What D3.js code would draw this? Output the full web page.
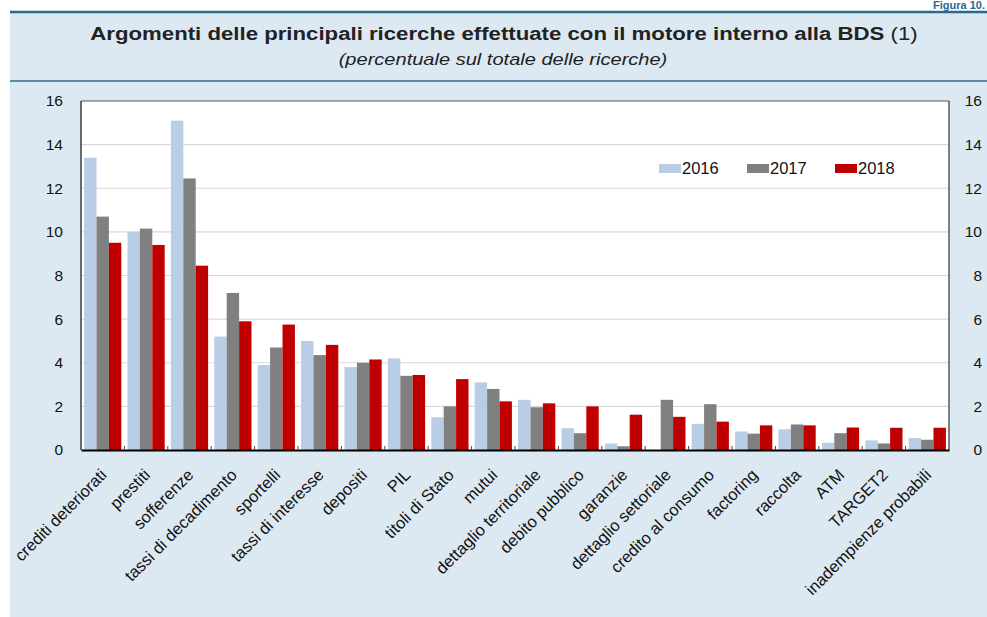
<!DOCTYPE html>
<html><head><meta charset="utf-8">
<script src="https://cdn.jsdelivr.net/npm/d3@7"></script>
<style>html,body{margin:0;padding:0;background:#fff;}svg{display:block;font-family:"Liberation Sans",Arial,sans-serif;}</style>
</head><body>
<svg id="c" width="987" height="617"></svg>
<script>
const categories = ["crediti deteriorati","prestiti","sofferenze","tassi di decadimento","sportelli","tassi di interesse","depositi","PIL","titoli di Stato","mutui","dettaglio territoriale","debito pubblico","garanzie","dettaglio settoriale","credito al consumo","factoring","raccolta","ATM","TARGET2","inadempienze probabili"];
const years = ["2016","2017","2018"];
const v2016 = [13.4,10.0,15.1,5.2,3.9,5.0,3.8,4.2,1.5,3.1,2.3,1.0,0.3,0.0,1.2,0.85,0.95,0.33,0.44,0.55];
const v2017 = [10.7,10.15,12.45,7.2,4.7,4.35,4.0,3.4,2.0,2.8,1.96,0.77,0.17,2.3,2.1,0.75,1.17,0.77,0.3,0.47];
const v2018 = [9.5,9.4,8.45,5.9,5.75,4.82,4.15,3.44,3.25,2.23,2.14,2.0,1.62,1.52,1.3,1.13,1.13,1.03,1.02,1.02];
const yTicks = [0,2,4,6,8,10,12,14,16];
const colors = ["#b9cde5","#808080","#c00000"];

const series = [v2016,v2017,v2018];
const svg = d3.select("#c");
const bg = "#dde9f2", teal = "#2a6a8c";

svg.append("rect").attr("x",10).attr("y",11).attr("width",977).attr("height",606).attr("fill",bg);
svg.append("line").attr("x1",10).attr("x2",987).attr("y1",12).attr("y2",12).attr("stroke",teal).attr("stroke-width",2.5);
svg.append("line").attr("x1",10).attr("x2",987).attr("y1",81).attr("y2",81).attr("stroke",teal).attr("stroke-width",1.5);
svg.append("text").attr("x",985).attr("y",9).attr("text-anchor","end").attr("fill","#1f6b94")
  .attr("font-weight","bold").attr("font-size",11).text("Figura 10.");

function stretch(sel, cx, target){
  const w = sel.node().getComputedTextLength();
  const s = target / w;
  sel.attr("transform",`translate(${cx},0) scale(${s},1) translate(${-cx},0)`);
}
const title = svg.append("text").attr("x",504).attr("y",40).attr("text-anchor","middle").attr("fill","#222").attr("font-size",18.5);
title.append("tspan").attr("font-weight","bold").text("Argomenti delle principali ricerche effettuate con il motore interno alla BDS");
title.append("tspan").text(" (1)");
stretch(title,504,828);
const sub = svg.append("text").attr("x",503).attr("y",65).attr("text-anchor","middle").attr("fill","#222")
  .attr("font-style","italic").attr("font-size",16).text("(percentuale sul totale delle ricerche)");
stretch(sub,503,329);

const m = {l:81, r:949, t:101, b:450};
const x0 = d3.scaleBand().domain(categories).range([m.l,m.r]).paddingInner(0).paddingOuter(0);
const x1 = d3.scaleBand().domain(years).range([0,x0.bandwidth()]).paddingOuter(0.25).paddingInner(0);
const y = d3.scaleLinear().domain([0,16]).range([m.b,m.t]);

svg.append("rect").attr("x",m.l).attr("y",m.t).attr("width",m.r-m.l).attr("height",m.b-m.t).attr("fill","#fff");
const g = svg.append("g");
g.selectAll(".grid").data(yTicks.filter(d=>d>0&&d<16)).join("line")
  .attr("x1",m.l).attr("x2",m.r).attr("y1",d=>y(d)).attr("y2",d=>y(d)).attr("stroke","#d9d9d9").attr("stroke-width",1.2);

const groups = g.selectAll(".grp").data(categories).join("g").attr("transform",d=>`translate(${x0(d)},0)`);
years.forEach((yr,si)=>{
  groups.append("rect")
    .attr("x",x1(yr)).attr("width",x1.bandwidth())
    .attr("y",(d,i)=>y(series[si][i])).attr("height",(d,i)=>m.b-y(series[si][i]))
    .attr("fill",colors[si]);
});

// frame
svg.append("line").attr("x1",m.l).attr("x2",m.r).attr("y1",m.t).attr("y2",m.t).attr("stroke","#555").attr("stroke-width",1);
svg.append("line").attr("x1",m.l).attr("x2",m.l).attr("y1",m.t).attr("y2",m.b).attr("stroke","#111").attr("stroke-width",1.2);
svg.append("line").attr("x1",m.r).attr("x2",m.r).attr("y1",m.t).attr("y2",m.b).attr("stroke","#333").attr("stroke-width",1.2);

// x axis
const xa = svg.append("g").attr("transform",`translate(0,${m.b})`);
xa.call(d3.axisBottom(x0).tickSize(0).tickFormat(""));
xa.select(".domain").attr("stroke","#000").attr("stroke-width",2);
xa.selectAll(".bnd").data(categories.slice(1)).join("line")
  .attr("x1",d=>x0(d)).attr("x2",d=>x0(d)).attr("y1",0).attr("y2",-4).attr("stroke","#444").attr("stroke-width",1);
xa.selectAll(".lbl").data(categories).join("text")
  .attr("transform",d=>`translate(${x0(d)+x0.bandwidth()/2+5},${26}) rotate(-45)`)
  .attr("text-anchor","end").attr("font-size",16.5).attr("fill","#111").text(d=>d);

// y axes
const yl = svg.append("g").attr("transform",`translate(${m.l},0)`)
  .call(d3.axisLeft(y).tickValues(yTicks).tickSize(0).tickPadding(18));
yl.select(".domain").remove();
yl.selectAll("text").attr("font-size",15.5).attr("fill","#111").attr("font-family","Liberation Sans, Arial, sans-serif");
const yr = svg.append("g").attr("transform",`translate(${m.r},0)`)
  .call(d3.axisRight(y).tickValues(yTicks).tickSize(0).tickPadding(33));
yr.select(".domain").remove();
yr.selectAll("text").attr("font-size",15.5).attr("fill","#111").attr("text-anchor","end").attr("font-family","Liberation Sans, Arial, sans-serif");

// legend
const lx = [659,747,835];
years.forEach((yrr,i)=>{
  svg.append("rect").attr("x",lx[i]).attr("y",164).attr("width",22).attr("height",9).attr("fill",colors[i]);
  svg.append("text").attr("x",lx[i]+23).attr("y",174).attr("font-size",16.5).attr("fill","#111").text(yrr);
});
</script>
</body></html>
